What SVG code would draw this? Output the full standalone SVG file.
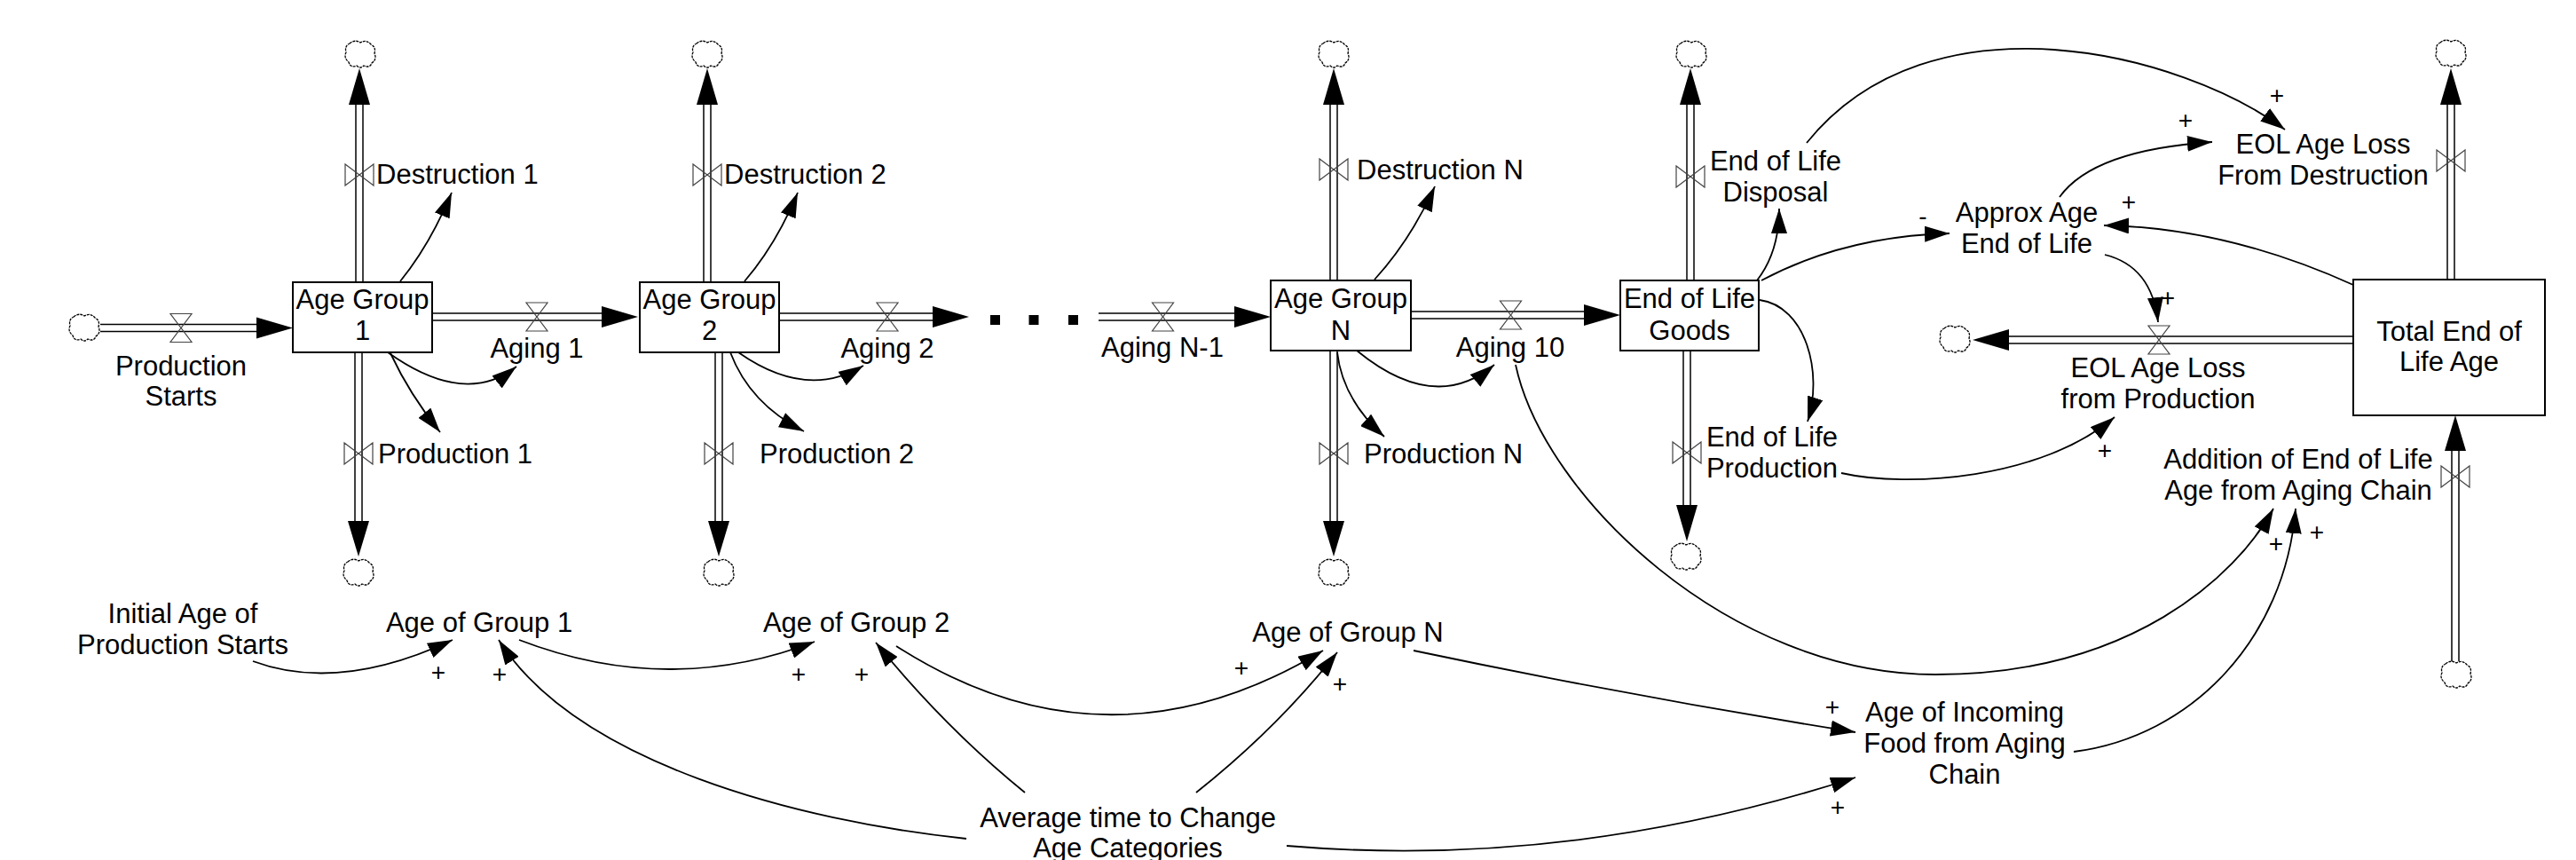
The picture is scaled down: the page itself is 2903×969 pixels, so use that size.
<svg xmlns="http://www.w3.org/2000/svg" width="2903" height="969" viewBox="0 0 2903 969">
  <style>
    text { font-family: "Liberation Sans", Arial, sans-serif; font-size: 31px; fill: #000; }
    .mid { text-anchor: middle; }
    .sign { font-size: 28px; text-anchor: middle; }
    .box { fill: #fff; stroke: #000; stroke-width: 2; }
    .pipe-o { fill: none; stroke: #000; stroke-width: 9.5; }
    .pipe-i { fill: none; stroke: #fff; stroke-width: 6.5; }
    .head { fill: #000; }
    .valve { fill: none; stroke: #444; stroke-width: 1.2; }
    .cloud { fill: #fff; stroke: #000; stroke-width: 1.3; stroke-dasharray: 3 1; }
    .link { fill: none; stroke: #000; stroke-width: 1.8; marker-end: url(#ah); }
    .dot { fill: #000; }
  </style>
  <defs>
    <marker id="ah" markerUnits="userSpaceOnUse" markerWidth="28" markerHeight="18" refX="28" refY="9" orient="auto">
      <path d="M0,0 L28,9 L0,18 Z" fill="#000"/>
    </marker>
    <g id="cloud">
      <path class="cloud" d="M-12,-12 Q-6,-17 0,-13 Q7,-17 12,-11 Q18,-8 16,-1 Q19,6 13,10 Q11,16 4,13 Q0,17 -4,13 Q-11,16 -13,9 Q-19,4 -16,-2 Q-18,-9 -12,-12 Z"/>
    </g>
    <!-- valve on a horizontal pipe -->
    <path id="valveH" class="valve" d="M-12,-16 L12,-16 L0,0 Z M-12,16 L12,16 L0,0 Z"/>
    <!-- valve on a vertical pipe -->
    <path id="valveV" class="valve" d="M-16,-12 L-16,12 L0,0 Z M16,-12 L16,12 L0,0 Z"/>
  </defs>

  <rect width="2903" height="969" fill="#fff"/>

  <!-- material flows (pipes with arrowheads) -->
  <g id="connectors">
    <g id="pipes">
      <path class="pipe-o" d="M113,369.5 H292 M487,357 H681 M878,357 H1054 M1238,357 H1394 M1590,355 H1788 M405,318 V115 M797,318 V115 M1503,316 V115 M1905,316 V115 M2762,315 V115 M404,397 V590 M810,397 V590 M1503,395 V590 M1901,395 V572 M2652,383 H2261 M2767,745 V505"/>
      <path class="pipe-i" d="M113,369.5 H292 M487,357 H681 M878,357 H1054 M1238,357 H1394 M1590,355 H1788 M405,318 V115 M797,318 V115 M1503,316 V115 M1905,316 V115 M2762,315 V115 M404,397 V590 M810,397 V590 M1503,395 V590 M1901,395 V572 M2652,383 H2261 M2767,745 V505"/>
      <polygon class="head" points="330,369.5 289,357.5 289,381.5"/>
      <polygon class="head" points="719,357 678,345 678,369"/>
      <polygon class="head" points="1092,357 1051,345 1051,369"/>
      <polygon class="head" points="1432,357 1391,345 1391,369"/>
      <polygon class="head" points="1826,355 1785,343 1785,367"/>
      <polygon class="head" points="405,77 393,118 417,118"/>
      <polygon class="head" points="797,77 785,118 809,118"/>
      <polygon class="head" points="1503,77 1491,118 1515,118"/>
      <polygon class="head" points="1905,77 1893,118 1917,118"/>
      <polygon class="head" points="2762,77 2750,118 2774,118"/>
      <polygon class="head" points="404,627 392,587 416,587"/>
      <polygon class="head" points="810,627 798,587 822,587"/>
      <polygon class="head" points="1503,627 1491,587 1515,587"/>
      <polygon class="head" points="1901,610 1889,569 1913,569"/>
      <polygon class="head" points="2223,383 2264,371 2264,395"/>
      <polygon class="head" points="2767,468 2755,508 2779,508"/>
      <rect class="dot" x="1116" y="355" width="11" height="11"/>
      <rect class="dot" x="1159.5" y="355" width="11" height="11"/>
      <rect class="dot" x="1204" y="355" width="11" height="11"/>
    </g>

    <!-- information links -->
    <g id="links">
      <path class="link" d="M451,317 Q485,275 509,217"/>
      <path class="link" d="M839,317 Q875,275 899,217"/>
      <path class="link" d="M1549,315 Q1590,270 1617,210"/>
      <path class="link" d="M437,397 Q524,459 582,413"/>
      <path class="link" d="M440,398 Q462,445 496,487"/>
      <path class="link" d="M832,397 Q909,451 973,412"/>
      <path class="link" d="M823,397 Q845,455 906,486"/>
      <path class="link" d="M1529,395 Q1617,467 1684,411"/>
      <path class="link" d="M1507,397 Q1513,450 1560,492"/>
      <path class="link" d="M1980,316 Q2005,284 2005,235"/>
      <path class="link" d="M1985,316 Q2079,266 2197,263"/>
      <path class="link" d="M1983,338 C2035,345 2055,420 2037,475"/>
      <path class="link" d="M2075,533 C2150,550 2300,540 2383,470"/>
      <path class="link" d="M2321,222 Q2359,169 2493,160"/>
      <path class="link" d="M2652,321 Q2508,256 2371,254"/>
      <path class="link" d="M2372,287 Q2425,300 2432,363"/>
      <path class="link" d="M2036,161 C2176,-13 2460,60 2575,146"/>
      <path class="link" d="M1708,411 C1740,560 1950,760 2181,760 C2400,760 2520,650 2562,573"/>
      <path class="link" d="M2337,847 C2470,830 2575,720 2587,573"/>
      <path class="link" d="M1593,733 Q1840,785 2091,825"/>
      <path class="link" d="M1450,953 Q1770,980 2091,876"/>
      <path class="link" d="M1089,945 C900,925 650,860 562,721"/>
      <path class="link" d="M1155,893 Q1065,820 987,724"/>
      <path class="link" d="M1348,893 Q1440,820 1507,735"/>
      <path class="link" d="M1010,728 Q1247,880 1491,733"/>
      <path class="link" d="M585,721 Q754,786 918,723"/>
      <path class="link" d="M285,745 Q382,781 510,721"/>
    </g>
  </g>

  <!-- clouds (sources and sinks) -->
  <g id="clouds">
    <use href="#cloud" transform="translate(95,369)"/>
    <use href="#cloud" transform="translate(406,61)"/>
    <use href="#cloud" transform="translate(797,61)"/>
    <use href="#cloud" transform="translate(1503,61)"/>
    <use href="#cloud" transform="translate(1906,61)"/>
    <use href="#cloud" transform="translate(2762,60)"/>
    <use href="#cloud" transform="translate(404,645)"/>
    <use href="#cloud" transform="translate(810,645)"/>
    <use href="#cloud" transform="translate(1503,645)"/>
    <use href="#cloud" transform="translate(1900,627)"/>
    <use href="#cloud" transform="translate(2203,382)"/>
    <use href="#cloud" transform="translate(2768,760)"/>
  </g>

  <!-- stocks -->
  <g id="age-group-1">
    <rect class="box" x="330" y="318" width="157" height="79"/>
    <text class="mid" x="408.5" y="348">Age Group<tspan x="408.5" y="383">1</tspan></text>
  </g>
  <g id="age-group-2">
    <rect class="box" x="721" y="318" width="157" height="79"/>
    <text class="mid" x="799.5" y="348">Age Group<tspan x="799.5" y="383">2</tspan></text>
  </g>
  <g id="age-group-n">
    <rect class="box" x="1432" y="316" width="158" height="79"/>
    <text class="mid" x="1511" y="347">Age Group<tspan x="1511" y="383">N</tspan></text>
  </g>
  <g id="end-of-life-goods">
    <rect class="box" x="1826" y="316" width="156" height="79"/>
    <text class="mid" x="1904" y="347">End of Life<tspan x="1904" y="383">Goods</tspan></text>
  </g>
  <g id="total-end-of-life-age">
    <rect class="box" x="2652" y="315" width="216" height="153"/>
    <text class="mid" x="2760" y="384">Total End of<tspan x="2760" y="418">Life Age</tspan></text>
  </g>

  <!-- flows (valve + name) -->
  <g id="production-starts">
    <use href="#valveH" transform="translate(204,369.5)"/>
    <text class="mid" x="204" y="423">Production<tspan x="204" y="457">Starts</tspan></text>
  </g>
  <g id="aging-1">
    <use href="#valveH" transform="translate(605,357)"/>
    <text class="mid" x="605" y="403">Aging 1</text>
  </g>
  <g id="aging-2">
    <use href="#valveH" transform="translate(1000,357)"/>
    <text class="mid" x="1000" y="403">Aging 2</text>
  </g>
  <g id="aging-n-1">
    <use href="#valveH" transform="translate(1310.5,357)"/>
    <text class="mid" x="1310" y="402">Aging N-1</text>
  </g>
  <g id="aging-10">
    <use href="#valveH" transform="translate(1702.5,355)"/>
    <text class="mid" x="1702" y="402">Aging 10</text>
  </g>
  <g id="destruction-1">
    <use href="#valveV" transform="translate(405,197)"/>
    <text x="424" y="207">Destruction 1</text>
  </g>
  <g id="destruction-2">
    <use href="#valveV" transform="translate(797,197)"/>
    <text x="816" y="207">Destruction 2</text>
  </g>
  <g id="destruction-n">
    <use href="#valveV" transform="translate(1503,191)"/>
    <text x="1529" y="202">Destruction N</text>
  </g>
  <g id="end-of-life-disposal">
    <use href="#valveV" transform="translate(1905,199)"/>
    <text class="mid" x="2001" y="192">End of Life<tspan x="2001" y="227">Disposal</tspan></text>
  </g>
  <g id="production-1">
    <use href="#valveV" transform="translate(404,511)"/>
    <text x="426" y="522">Production 1</text>
  </g>
  <g id="production-2">
    <use href="#valveV" transform="translate(810,511)"/>
    <text x="856" y="522">Production 2</text>
  </g>
  <g id="production-n">
    <use href="#valveV" transform="translate(1503,511)"/>
    <text x="1537" y="522">Production N</text>
  </g>
  <g id="end-of-life-production">
    <use href="#valveV" transform="translate(1901,510)"/>
    <text class="mid" x="1997" y="503">End of Life<tspan x="1997" y="538">Production</tspan></text>
  </g>
  <g id="eol-age-loss-from-destruction">
    <use href="#valveV" transform="translate(2762,181)"/>
    <text class="mid" x="2618" y="173">EOL Age Loss<tspan x="2618" y="208">From Destruction</tspan></text>
  </g>
  <g id="eol-age-loss-from-production">
    <use href="#valveH" transform="translate(2433,383)"/>
    <text class="mid" x="2432" y="425">EOL Age Loss<tspan x="2432" y="460">from Production</tspan></text>
  </g>
  <g id="addition-of-end-of-life-age">
    <use href="#valveV" transform="translate(2767,537)"/>
    <text class="mid" x="2590" y="528">Addition of End of Life<tspan x="2590" y="563">Age from Aging Chain</tspan></text>
  </g>

  <!-- auxiliaries -->
  <g id="approx-age-end-of-life">
    <text class="mid" x="2284" y="250">Approx Age<tspan x="2284" y="285">End of Life</tspan></text>
  </g>
  <g id="initial-age-of-production-starts">
    <text class="mid" x="206" y="702">Initial Age of<tspan x="206" y="737">Production Starts</tspan></text>
  </g>
  <g id="age-of-group-1">
    <text class="mid" x="540" y="712">Age of Group 1</text>
  </g>
  <g id="age-of-group-2">
    <text class="mid" x="965" y="712">Age of Group 2</text>
  </g>
  <g id="age-of-group-n">
    <text class="mid" x="1519" y="723">Age of Group N</text>
  </g>
  <g id="average-time-to-change-age-categories">
    <text class="mid" x="1271" y="932">Average time to Change<tspan x="1271" y="966">Age Categories</tspan></text>
  </g>
  <g id="age-of-incoming-food-from-aging-chain">
    <text class="mid" x="2214" y="813">Age of Incoming<tspan x="2214" y="848">Food from Aging</tspan><tspan x="2214" y="883">Chain</tspan></text>
  </g>

  <!-- link polarities -->
  <g id="polarities">
    <text class="sign" x="494" y="767">+</text>
    <text class="sign" x="563" y="769">+</text>
    <text class="sign" x="900" y="769">+</text>
    <text class="sign" x="971" y="769">+</text>
    <text class="sign" x="1399" y="762">+</text>
    <text class="sign" x="1510" y="780">+</text>
    <text class="sign" x="2065" y="806">+</text>
    <text class="sign" x="2071" y="919">+</text>
    <text class="sign" x="2372" y="517">+</text>
    <text class="sign" x="2565" y="622">+</text>
    <text class="sign" x="2611" y="609">+</text>
    <text class="sign" x="2443" y="345">+</text>
    <text class="sign" x="2399" y="237">+</text>
    <text class="sign" x="2167" y="253">-</text>
    <text class="sign" x="2463" y="145">+</text>
    <text class="sign" x="2566" y="117">+</text>
  </g>
</svg>
